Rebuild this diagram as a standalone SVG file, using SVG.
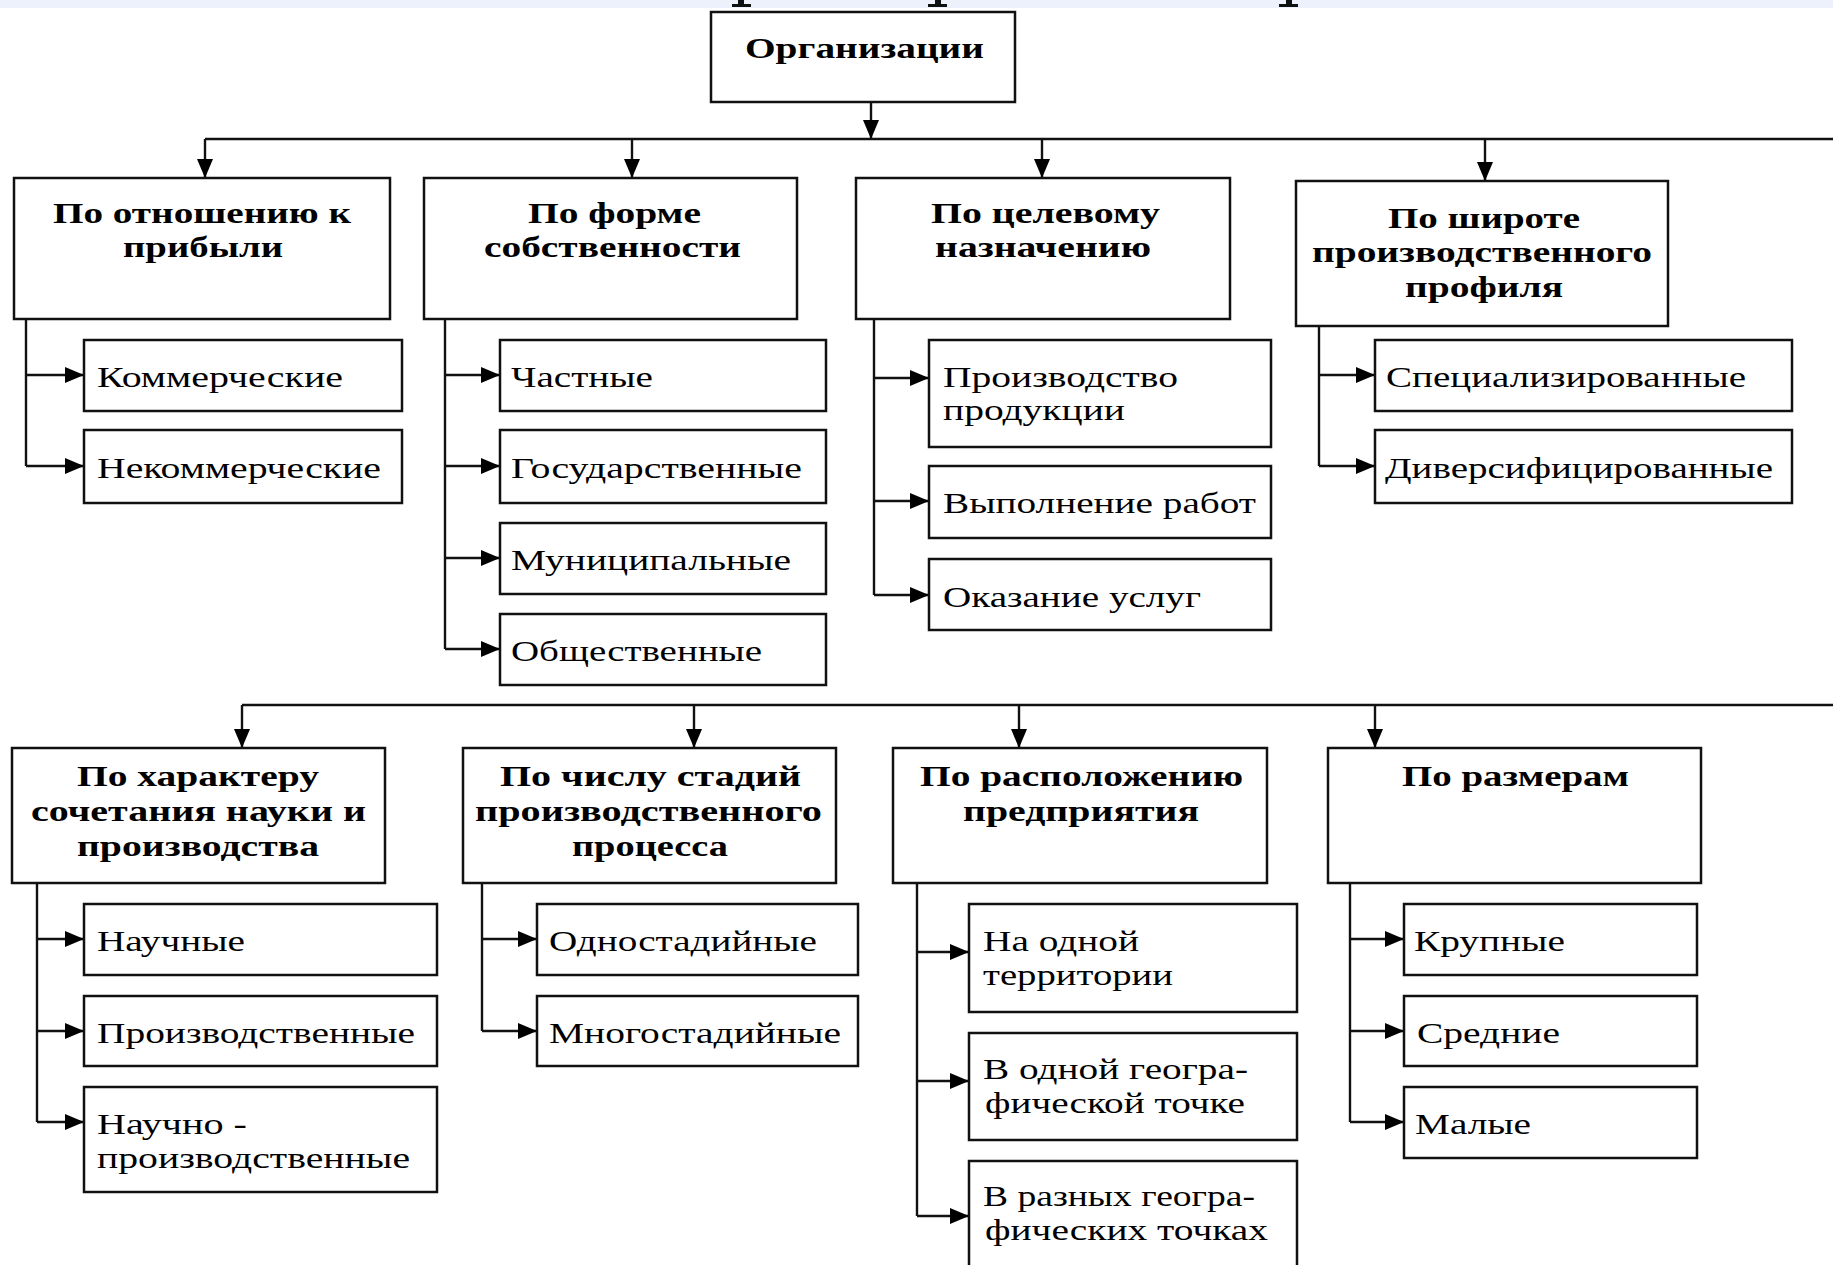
<svg xmlns="http://www.w3.org/2000/svg" width="1833" height="1265" viewBox="0 0 1833 1265">
  <defs>
    <style>
      .box { fill: #ffffff; stroke: #111111; stroke-width: 2.5; }
      .ln { fill: none; stroke: #111111; stroke-width: 2.4; }
      .h { font-family: "Liberation Serif", "Times New Roman", serif; font-weight: bold; font-size: 29px; fill: #000000; }
      .c { font-family: "Liberation Serif", "Times New Roman", serif; font-size: 29px; fill: #000000; }
    </style>
    <marker id="arr" viewBox="0 0 19 16" refX="19" refY="8" markerWidth="19" markerHeight="16" markerUnits="userSpaceOnUse" orient="auto">
      <path d="M0,0 L19,8 L0,16 z" fill="#000000"/>
    </marker>
  </defs>

  <rect width="1833" height="1265" fill="#ffffff"/>

  <!-- pale band along the top edge with the feet of the heading above -->
  <g id="top-band">
    <rect x="0" y="0" width="1833" height="8" fill="#ecf1fb"/>
    <rect x="738" y="0" width="6" height="7" fill="#111111"/>
    <rect x="732" y="4" width="19" height="3" fill="#111111"/>
    <rect x="935" y="0" width="6" height="7" fill="#111111"/>
    <rect x="928" y="4" width="19" height="3" fill="#111111"/>
    <rect x="1286" y="0" width="6" height="7" fill="#111111"/>
    <rect x="1279" y="4" width="19" height="3" fill="#111111"/>
  </g>

  <!-- connectors -->
  <g id="connectors">
    <!-- root to first bus -->
    <path class="ln" d="M871,102 V139" marker-end="url(#arr)"/>
    <path class="ln" d="M205,139 H1833"/>
    <path class="ln" d="M205,139 V178" marker-end="url(#arr)"/>
    <path class="ln" d="M632,139 V178" marker-end="url(#arr)"/>
    <path class="ln" d="M1042,139 V178" marker-end="url(#arr)"/>
    <path class="ln" d="M1485,139 V181" marker-end="url(#arr)"/>

    <!-- profit -->
    <path class="ln" d="M26,319 V466"/>
    <path class="ln" d="M26,375 H84" marker-end="url(#arr)"/>
    <path class="ln" d="M26,466 H84" marker-end="url(#arr)"/>

    <!-- ownership -->
    <path class="ln" d="M445,319 V649"/>
    <path class="ln" d="M445,375 H500" marker-end="url(#arr)"/>
    <path class="ln" d="M445,466 H500" marker-end="url(#arr)"/>
    <path class="ln" d="M445,558 H500" marker-end="url(#arr)"/>
    <path class="ln" d="M445,649 H500" marker-end="url(#arr)"/>

    <!-- purpose -->
    <path class="ln" d="M874,319 V595"/>
    <path class="ln" d="M874,378 H929" marker-end="url(#arr)"/>
    <path class="ln" d="M874,501 H929" marker-end="url(#arr)"/>
    <path class="ln" d="M874,595 H929" marker-end="url(#arr)"/>

    <!-- profile width -->
    <path class="ln" d="M1319,326 V466"/>
    <path class="ln" d="M1319,375 H1375" marker-end="url(#arr)"/>
    <path class="ln" d="M1319,466 H1375" marker-end="url(#arr)"/>

    <!-- second bus -->
    <path class="ln" d="M242,705 H1833"/>
    <path class="ln" d="M242,705 V748" marker-end="url(#arr)"/>
    <path class="ln" d="M694,705 V748" marker-end="url(#arr)"/>
    <path class="ln" d="M1019,705 V748" marker-end="url(#arr)"/>
    <path class="ln" d="M1375,705 V748" marker-end="url(#arr)"/>

    <!-- science and production -->
    <path class="ln" d="M37,883 V1122"/>
    <path class="ln" d="M37,939 H84" marker-end="url(#arr)"/>
    <path class="ln" d="M37,1031 H84" marker-end="url(#arr)"/>
    <path class="ln" d="M37,1122 H84" marker-end="url(#arr)"/>

    <!-- stages -->
    <path class="ln" d="M482,883 V1031"/>
    <path class="ln" d="M482,939 H537" marker-end="url(#arr)"/>
    <path class="ln" d="M482,1031 H537" marker-end="url(#arr)"/>

    <!-- location -->
    <path class="ln" d="M917,883 V1216"/>
    <path class="ln" d="M917,952 H969" marker-end="url(#arr)"/>
    <path class="ln" d="M917,1081 H969" marker-end="url(#arr)"/>
    <path class="ln" d="M917,1216 H969" marker-end="url(#arr)"/>

    <!-- size -->
    <path class="ln" d="M1350,883 V1122"/>
    <path class="ln" d="M1350,939 H1404" marker-end="url(#arr)"/>
    <path class="ln" d="M1350,1031 H1404" marker-end="url(#arr)"/>
    <path class="ln" d="M1350,1122 H1404" marker-end="url(#arr)"/>
  </g>

  <!-- root -->
  <g id="organizations">
    <rect class="box" x="711" y="12" width="304" height="90"/>
    <text class="h" x="745" y="58" textLength="239" lengthAdjust="spacingAndGlyphs">Организации</text>
  </g>

  <!-- first row of criteria -->
  <g id="by-profit">
    <rect class="box" x="14" y="178" width="376" height="141"/>
    <text class="h" x="53" y="223" textLength="298" lengthAdjust="spacingAndGlyphs">По отношению к</text>
    <text class="h" x="123" y="257" textLength="160" lengthAdjust="spacingAndGlyphs">прибыли</text>
  </g>
  <g id="commercial">
    <rect class="box" x="84" y="340" width="318" height="71"/>
    <text class="c" x="97" y="387" textLength="246" lengthAdjust="spacingAndGlyphs">Коммерческие</text>
  </g>
  <g id="noncommercial">
    <rect class="box" x="84" y="430" width="318" height="73"/>
    <text class="c" x="97" y="478" textLength="284" lengthAdjust="spacingAndGlyphs">Некоммерческие</text>
  </g>

  <g id="by-ownership">
    <rect class="box" x="424" y="178" width="373" height="141"/>
    <text class="h" x="528" y="223" textLength="173" lengthAdjust="spacingAndGlyphs">По форме</text>
    <text class="h" x="484" y="257" textLength="257" lengthAdjust="spacingAndGlyphs">собственности</text>
  </g>
  <g id="private">
    <rect class="box" x="500" y="340" width="326" height="71"/>
    <text class="c" x="511" y="387" textLength="142" lengthAdjust="spacingAndGlyphs">Частные</text>
  </g>
  <g id="state">
    <rect class="box" x="500" y="430" width="326" height="73"/>
    <text class="c" x="511" y="478" textLength="291" lengthAdjust="spacingAndGlyphs">Государственные</text>
  </g>
  <g id="municipal">
    <rect class="box" x="500" y="523" width="326" height="71"/>
    <text class="c" x="511" y="570" textLength="280" lengthAdjust="spacingAndGlyphs">Муниципальные</text>
  </g>
  <g id="public">
    <rect class="box" x="500" y="614" width="326" height="71"/>
    <text class="c" x="511" y="661" textLength="251" lengthAdjust="spacingAndGlyphs">Общественные</text>
  </g>

  <g id="by-purpose">
    <rect class="box" x="856" y="178" width="374" height="141"/>
    <text class="h" x="931" y="223" textLength="229" lengthAdjust="spacingAndGlyphs">По целевому</text>
    <text class="h" x="935" y="257" textLength="216" lengthAdjust="spacingAndGlyphs">назначению</text>
  </g>
  <g id="production">
    <rect class="box" x="929" y="340" width="342" height="107"/>
    <text class="c" x="943" y="387" textLength="235" lengthAdjust="spacingAndGlyphs">Производство</text>
    <text class="c" x="943" y="420" textLength="182" lengthAdjust="spacingAndGlyphs">продукции</text>
  </g>
  <g id="works">
    <rect class="box" x="929" y="466" width="342" height="72"/>
    <text class="c" x="943" y="513" textLength="313" lengthAdjust="spacingAndGlyphs">Выполнение работ</text>
  </g>
  <g id="services">
    <rect class="box" x="929" y="559" width="342" height="71"/>
    <text class="c" x="943" y="607" textLength="258" lengthAdjust="spacingAndGlyphs">Оказание услуг</text>
  </g>

  <g id="by-profile">
    <rect class="box" x="1296" y="181" width="372" height="145"/>
    <text class="h" x="1388" y="228" textLength="192" lengthAdjust="spacingAndGlyphs">По широте</text>
    <text class="h" x="1312" y="262" textLength="340" lengthAdjust="spacingAndGlyphs">производственного</text>
    <text class="h" x="1405" y="297" textLength="158" lengthAdjust="spacingAndGlyphs">профиля</text>
  </g>
  <g id="specialized">
    <rect class="box" x="1375" y="340" width="417" height="71"/>
    <text class="c" x="1386" y="387" textLength="360" lengthAdjust="spacingAndGlyphs">Специализированные</text>
  </g>
  <g id="diversified">
    <rect class="box" x="1375" y="430" width="417" height="73"/>
    <text class="c" x="1385" y="478" textLength="388" lengthAdjust="spacingAndGlyphs">Диверсифицированные</text>
  </g>

  <!-- second row of criteria -->
  <g id="by-science">
    <rect class="box" x="12" y="748" width="373" height="135"/>
    <text class="h" x="77" y="786" textLength="242" lengthAdjust="spacingAndGlyphs">По характеру</text>
    <text class="h" x="31" y="821" textLength="335" lengthAdjust="spacingAndGlyphs">сочетания науки и</text>
    <text class="h" x="77" y="856" textLength="242" lengthAdjust="spacingAndGlyphs">производства</text>
  </g>
  <g id="scientific">
    <rect class="box" x="84" y="904" width="353" height="71"/>
    <text class="c" x="97" y="951" textLength="148" lengthAdjust="spacingAndGlyphs">Научные</text>
  </g>
  <g id="industrial">
    <rect class="box" x="84" y="996" width="353" height="70"/>
    <text class="c" x="97" y="1043" textLength="318" lengthAdjust="spacingAndGlyphs">Производственные</text>
  </g>
  <g id="research-industrial">
    <rect class="box" x="84" y="1087" width="353" height="105"/>
    <text class="c" x="97" y="1134" textLength="150" lengthAdjust="spacingAndGlyphs">Научно -</text>
    <text class="c" x="97" y="1168" textLength="313" lengthAdjust="spacingAndGlyphs">производственные</text>
  </g>

  <g id="by-stages">
    <rect class="box" x="463" y="748" width="373" height="135"/>
    <text class="h" x="500" y="786" textLength="301" lengthAdjust="spacingAndGlyphs">По числу стадий</text>
    <text class="h" x="475" y="821" textLength="347" lengthAdjust="spacingAndGlyphs">производственного</text>
    <text class="h" x="572" y="856" textLength="156" lengthAdjust="spacingAndGlyphs">процесса</text>
  </g>
  <g id="single-stage">
    <rect class="box" x="537" y="904" width="321" height="71"/>
    <text class="c" x="549" y="951" textLength="268" lengthAdjust="spacingAndGlyphs">Одностадийные</text>
  </g>
  <g id="multi-stage">
    <rect class="box" x="537" y="996" width="321" height="70"/>
    <text class="c" x="549" y="1043" textLength="292" lengthAdjust="spacingAndGlyphs">Многостадийные</text>
  </g>

  <g id="by-location">
    <rect class="box" x="893" y="748" width="374" height="135"/>
    <text class="h" x="920" y="786" textLength="323" lengthAdjust="spacingAndGlyphs">По расположению</text>
    <text class="h" x="963" y="821" textLength="236" lengthAdjust="spacingAndGlyphs">предприятия</text>
  </g>
  <g id="one-territory">
    <rect class="box" x="969" y="904" width="328" height="108"/>
    <text class="c" x="983" y="951" textLength="156" lengthAdjust="spacingAndGlyphs">На одной</text>
    <text class="c" x="983" y="985" textLength="190" lengthAdjust="spacingAndGlyphs">территории</text>
  </g>
  <g id="one-point">
    <rect class="box" x="969" y="1033" width="328" height="107"/>
    <text class="c" x="983" y="1079" textLength="265" lengthAdjust="spacingAndGlyphs">В одной геогра-</text>
    <text class="c" x="985" y="1113" textLength="260" lengthAdjust="spacingAndGlyphs">фической точке</text>
  </g>
  <g id="several-points">
    <rect class="box" x="969" y="1161" width="328" height="120"/>
    <text class="c" x="983" y="1206" textLength="272" lengthAdjust="spacingAndGlyphs">В разных геогра-</text>
    <text class="c" x="985" y="1240" textLength="283" lengthAdjust="spacingAndGlyphs">фических точках</text>
  </g>

  <g id="by-size">
    <rect class="box" x="1328" y="748" width="373" height="135"/>
    <text class="h" x="1402" y="786" textLength="227" lengthAdjust="spacingAndGlyphs">По размерам</text>
  </g>
  <g id="large">
    <rect class="box" x="1404" y="904" width="293" height="71"/>
    <text class="c" x="1414" y="951" textLength="151" lengthAdjust="spacingAndGlyphs">Крупные</text>
  </g>
  <g id="medium">
    <rect class="box" x="1404" y="996" width="293" height="70"/>
    <text class="c" x="1417" y="1043" textLength="143" lengthAdjust="spacingAndGlyphs">Средние</text>
  </g>
  <g id="small">
    <rect class="box" x="1404" y="1087" width="293" height="71"/>
    <text class="c" x="1415" y="1134" textLength="116" lengthAdjust="spacingAndGlyphs">Малые</text>
  </g>
</svg>
